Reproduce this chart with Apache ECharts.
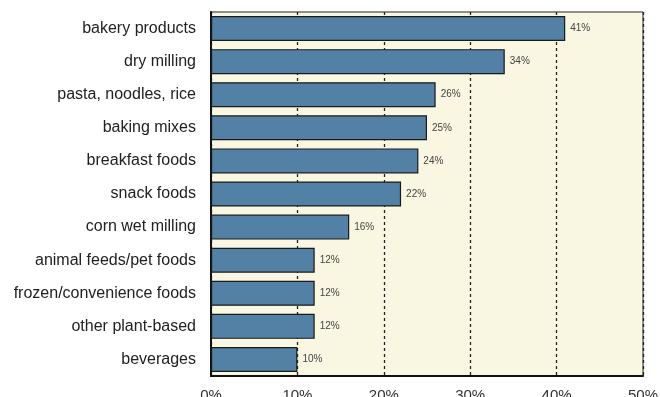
<!DOCTYPE html>
<html><head><meta charset="utf-8">
<script src="https://cdn.jsdelivr.net/npm/echarts@6/dist/echarts.min.js"></script>
<style>html,body{margin:0;padding:0;background:#fff}#c{width:660px;height:397px}</style>
</head><body><div id="c"></div>
<script>
const categories = ["bakery products","dry milling","pasta, noodles, rice","baking mixes","breakfast foods","snack foods","corn wet milling","animal feeds/pet foods","frozen/convenience foods","other plant-based","beverages"];
const values = [41,34,26,25,24,22,16,12,12,12,10];
const xTicks = [0,10,20,30,40,50];

const chart = echarts.init(document.getElementById('c'), null, {renderer:'canvas'});
chart.setOption({
  animation:false,
  textStyle:{fontFamily:'Liberation Sans, Arial, sans-serif'},
  grid:{left:211,right:17,top:12,bottom:21,containLabel:false,outerBoundsMode:'none',show:true,backgroundColor:'#f9f6e1',borderColor:'#222',borderWidth:1},
  xAxis:{type:'value',min:xTicks[0],max:xTicks[xTicks.length-1],interval:10,
    axisLine:{show:true,lineStyle:{color:'#111',width:2}},
    axisTick:{show:false},
    axisLabel:{formatter:'{value}%',fontSize:15,color:'#333',margin:12},
    splitLine:{show:true,lineStyle:{color:'#222',width:1.3,type:[3,3]}}},
  yAxis:{type:'category',data:categories,inverse:true,
    axisLine:{show:true,lineStyle:{color:'#111',width:2}},
    axisTick:{show:false},
    axisLabel:{fontSize:16,color:'#222',margin:15}},
  series:[{type:'bar',data:values,barWidth:25,
    itemStyle:{color:'#5281a5',borderColor:'#1a1a1a',borderWidth:1.2},
    label:{show:true,position:'right',formatter:'{c}%',fontSize:10,color:'#444',distance:5}}]
});
</script></body></html>
